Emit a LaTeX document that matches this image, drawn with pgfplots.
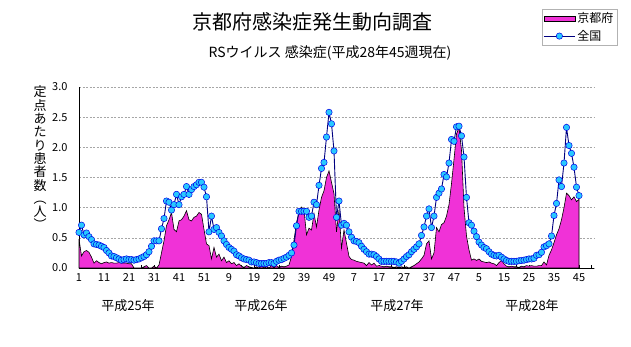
\documentclass[border=0pt]{standalone}
\usepackage{fontspec}
\setmainfont{Noto Sans CJK JP}
\usepackage{pgfplots}
\pgfplotsset{compat=1.18}
\usepackage{pgfplotstable}

\definecolor{kyoto}{RGB}{240,50,215}
\definecolor{natline}{RGB}{0,0,128}
\definecolor{natfill}{RGB}{40,200,255}
\definecolor{natedge}{RGB}{0,0,230}

\pgfplotsset{
  kyotoleg/.style={legend image code/.code={\draw[##1] (0pt,-2.5pt) rectangle (31pt,2.5pt);}},
  natleg/.style={legend image code/.code={\draw[mark repeat=2,mark phase=2,##1] plot coordinates {(0pt,0pt) (15.5pt,0pt) (31pt,0pt)};}},
}

\pgfplotstableread{
i k n
1 0.48 0.59
2 0.20 0.71
3 0.27 0.55
4 0.29 0.58
5 0.26 0.52
6 0.18 0.47
7 0.08 0.40
8 0.12 0.39
9 0.09 0.38
10 0.07 0.36
11 0.09 0.34
12 0.10 0.29
13 0.08 0.25
14 0.09 0.20
15 0.08 0.19
16 0.08 0.17
17 0.09 0.15
18 0.08 0.13
19 0.08 0.14
20 0.08 0.15
21 0.07 0.14
22 0.07 0.14
23 0.00 0.13
24 0.00 0.14
25 0.00 0.15
26 0.00 0.17
27 0.02 0.19
28 0.04 0.22
29 0.00 0.27
30 0.00 0.36
31 0.03 0.45
32 0.00 0.45
33 0.05 0.45
34 0.25 0.65
35 0.45 0.82
36 0.70 1.11
37 0.80 1.09
38 0.92 0.96
39 0.64 1.05
40 0.60 1.22
41 0.78 1.05
42 0.80 1.18
43 0.86 1.22
44 0.95 1.35
45 0.80 1.22
46 0.78 1.30
47 0.84 1.35
48 0.86 1.38
49 0.92 1.42
50 0.89 1.42
51 0.64 1.34
52 0.40 1.18
53 0.37 0.60
54 0.15 0.86
55 0.34 0.64
56 0.18 0.67
57 0.23 0.59
58 0.12 0.53
59 0.18 0.45
60 0.09 0.39
61 0.12 0.34
62 0.07 0.31
63 0.09 0.28
64 0.04 0.22
65 0.07 0.20
66 0.03 0.17
67 0.01 0.15
68 0.04 0.14
69 0.02 0.13
70 0.01 0.10
71 0.00 0.10
72 0.02 0.09
73 0.00 0.075
74 0.04 0.075
75 0.00 0.075
76 0.03 0.075
77 0.00 0.09
78 0.04 0.09
79 0.01 0.075
80 0.04 0.11
81 0.01 0.13
82 0.03 0.14
83 0.02 0.16
84 0.03 0.18
85 0.05 0.21
86 0.19 0.25
87 0.46 0.38
88 0.75 0.70
89 0.93 0.94
90 1.01 0.94
91 0.96 0.94
92 0.55 0.94
93 0.66 0.84
94 0.63 0.86
95 0.90 1.09
96 0.68 1.05
97 0.96 1.37
98 1.17 1.65
99 1.28 1.75
100 1.50 2.17
101 1.61 2.58
102 1.42 2.39
103 1.23 1.94
104 0.60 0.84
105 0.96 1.11
106 0.33 0.71
107 0.63 0.74
108 0.41 0.71
109 0.19 0.60
110 0.14 0.51
111 0.13 0.45
112 0.11 0.44
113 0.10 0.42
114 0.09 0.36
115 0.08 0.31
116 0.04 0.27
117 0.09 0.23
118 0.05 0.23
119 0.08 0.22
120 0.03 0.19
121 0.04 0.15
122 0.03 0.11
123 0.02 0.11
124 0.03 0.11
125 0.02 0.11
126 0.02 0.11
127 0.01 0.11
128 0.02 0.10
129 0.01 0.08
130 0.02 0.11
131 0.01 0.15
132 0.02 0.19
133 0.00 0.22
134 0.02 0.27
135 0.04 0.31
136 0.07 0.35
137 0.10 0.40
138 0.15 0.54
139 0.21 0.68
140 0.40 0.86
141 0.45 0.98
142 0.15 0.67
143 0.25 0.86
144 0.67 1.17
145 0.60 1.24
146 0.72 1.31
147 0.75 1.55
148 0.86 1.51
149 1.05 1.74
150 1.40 2.13
151 1.80 2.10
152 2.22 2.34
153 2.33 2.35
154 1.95 2.19
155 1.00 1.84
156 0.53 1.17
157 0.30 0.75
158 0.13 0.71
159 0.15 0.61
160 0.125 0.52
161 0.15 0.43
162 0.11 0.38
163 0.10 0.34
164 0.09 0.32
165 0.10 0.27
166 0.08 0.23
167 0.07 0.21
168 0.04 0.20
169 0.09 0.21
170 0.125 0.18
171 0.07 0.15
172 0.03 0.125
173 0.02 0.11
174 0.03 0.11
175 0.02 0.11
176 0.02 0.11
177 0.01 0.12
178 0.03 0.125
179 0.02 0.13
180 0.04 0.14
181 0.03 0.15
182 0.04 0.15
183 0.03 0.16
184 0.03 0.21
185 0.04 0.22
186 0.04 0.26
187 0.10 0.35
188 0.05 0.37
189 0.21 0.40
190 0.30 0.53
191 0.42 0.87
192 0.55 1.07
193 0.65 1.46
194 0.80 1.35
195 1.00 1.74
196 1.24 2.33
197 1.20 2.03
198 1.13 1.90
199 1.18 1.67
200 1.10 1.34
201 1.14 1.20
}\datatable

\begin{document}
\begin{tikzpicture}[x=1pt,y=1pt]
\useasboundingbox (0,0) rectangle (631,347);
\begin{axis}[
  at={(79pt,79pt)}, anchor=south west,
  scale only axis, width=515pt, height=181pt,
  xmin=1, xmax=207, ymin=0, ymax=3,
  clip=false,
  axis x line*=bottom, axis y line*=left,
  axis line style={-, black, line width=0.8pt},
  ytick={0,0.5,1,1.5,2,2.5,3},
  yticklabel style={/pgf/number format/fixed, /pgf/number format/precision=1, /pgf/number format/fixed zerofill, xshift=-8pt},
  /pgf/number format/assume math mode=true,
  ymajorgrids, grid style={gray!70, dash pattern=on 2pt off 1.5pt, line width=0.6pt},
  xtick={1,11,...,201},
  xticklabels={1,11,21,31,41,51,9,19,29,39,49,7,17,27,37,47,5,15,25,35,45},
  minor xtick={6,16,...,206},
  tick align=inside,
  major tick length=3pt, minor tick length=3pt,
  xtick style={draw=black, line width=0.6pt},
  minor tick style={draw=black, line width=0.6pt},
  ytick style={draw=none},
  tick label style={font=\fontsize{11}{11}\selectfont},
  xticklabel style={yshift=-2pt},
  legend style={at={(1.0447,1.431)}, anchor=north east, draw=gray!60,
    font=\fontsize{12}{12}\selectfont, inner sep=1.5pt, row sep=2pt,
    legend cell align=left},
]
\addplot[draw=black, line width=0.6pt, fill=kyoto, kyotoleg]
  table[x=i, y=k] {\datatable} \closedcycle;
\addlegendentry{京都府}
\addplot[color=natline, line width=0.9pt, mark=*, mark size=3.2pt,
  mark options={fill=natfill, draw=natedge, line width=0.5pt}, natleg]
  table[x=i, y=n] {\datatable};
\addlegendentry{全国}
\end{axis}
\node[font=\fontsize{20}{20}\selectfont] at (312,325) {京都府感染症発生動向調査};
\node[font=\fontsize{14}{14}\selectfont] at (330,294) {RSウイルス 感染症(平成28年45週現在)};
\node[font=\fontsize{13}{13.3}\selectfont, align=center] at (40,189) {定\\点\\あ\\た\\り\\患\\者\\数\\︵\\人\\︶};
\node[font=\fontsize{13}{13}\selectfont] at (128,41) {平成25年};
\node[font=\fontsize{13}{13}\selectfont] at (261,41) {平成26年};
\node[font=\fontsize{13}{13}\selectfont] at (397,41) {平成27年};
\node[font=\fontsize{13}{13}\selectfont] at (532,41) {平成28年};
\end{tikzpicture}
\end{document}
